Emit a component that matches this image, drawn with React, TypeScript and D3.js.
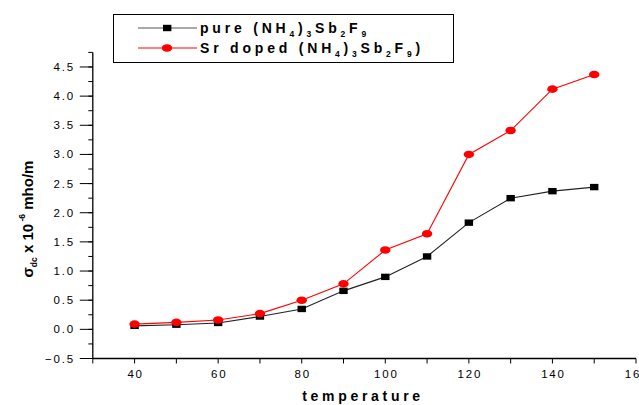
import React from 'react';
import * as d3 from 'd3';

const temps = [40, 50, 60, 70, 80, 90, 100, 110, 120, 130, 140, 150];
const pureVals = [0.06, 0.08, 0.11, 0.22, 0.35, 0.66, 0.9, 1.25, 1.83, 2.25, 2.37, 2.44];
const srVals = [0.09, 0.12, 0.16, 0.27, 0.5, 0.78, 1.36, 1.64, 3.0, 3.41, 4.12, 4.37];
const xMajor = [40, 60, 80, 100, 120, 140, 160];
const yMajor = [-0.5, 0, 0.5, 1, 1.5, 2, 2.5, 3, 3.5, 4, 4.5];

const W = 639;
const H = 405;
const font = "'Liberation Sans', Arial, sans-serif";

const App = () => {
  const x = d3.scaleLinear().domain([30, 160]).range([92.8, 636]);
  const y = d3.scaleLinear().domain([-0.5, 4.75]).range([358.5, 52.4]);

  const xMinor = d3.range(30, 161, 10);
  const yMinor = d3.range(-0.5, 4.76, 0.25);

  const line = d3
    .line<number>()
    .x((_, i) => x(temps[i]))
    .y((d) => y(d));

  const x0 = x(30);
  const y0 = y(-0.5);

  return (
    <svg
      width={W}
      height={H}
      style={{ position: 'absolute', left: 0, top: 0, background: '#fff' }}
      fontFamily={font}
    >
      <rect width={W} height={H} fill="#fff" />

      {/* axes */}
      <line x1={x0} y1={y(4.75)} x2={x0} y2={y0 + 0.5} stroke="#000" strokeWidth={1.3} />
      <line x1={x0} y1={y0} x2={x(160)} y2={y0} stroke="#000" strokeWidth={1.3} />

      {xMinor.map((t) => (
        <line key={'xt' + t} x1={x(t)} x2={x(t)} y1={y0} y2={y0 + 5} stroke="#000" />
      ))}
      {xMajor.map((t) => (
        <text
          key={'xl' + t}
          x={x(t) + 1}
          y={y0 + 19}
          fontSize={11.5}
          letterSpacing={1.8}
          textAnchor="middle"
          fill="#000"
        >
          {t}
        </text>
      ))}

      {yMinor.map((t) => (
        <line key={'ym' + t} x1={x0 - 4.5} x2={x0} y1={y(t)} y2={y(t)} stroke="#000" />
      ))}
      {yMajor.map((t) => (
        <g key={'yl' + t}>
          <line x1={x0 - 13} x2={x0} y1={y(t)} y2={y(t)} stroke="#000" />
          <text
            x={75}
            y={y(t) + 4}
            fontSize={11.5}
            letterSpacing={1.8}
            textAnchor="end"
            fill="#000"
          >
            {d3.format('.1f')(t)}
          </text>
        </g>
      ))}

      {/* axis titles */}
      <text
        x={363}
        y={401}
        fontSize={14}
        fontWeight="bold"
        letterSpacing={3.7}
        textAnchor="middle"
        fill="#000"
      >
        temperature
      </text>
      <text
        transform="translate(33,219) rotate(-90)"
        fontSize={15}
        fontWeight="bold"
        textAnchor="middle"
        fill="#000"
      >
        σ
        <tspan fontSize={8.5} dy={4}>dc</tspan>
        <tspan dy={-4}> x 10</tspan>
        <tspan fontSize={8.5} dy={-8}> -6</tspan>
        <tspan dy={8}> mho/m</tspan>
      </text>

      {/* series */}
      <path d={line(pureVals) ?? ''} fill="none" stroke="#222" strokeWidth={1.1} />
      <path d={line(srVals) ?? ''} fill="none" stroke="#ff0000" strokeWidth={1.1} />
      {pureVals.map((v, i) => (
        <rect
          key={'p' + i}
          x={x(temps[i]) - 4.2}
          y={y(v) - 3.2}
          width={8.4}
          height={6.4}
          fill="#000"
        />
      ))}
      {srVals.map((v, i) => (
        <ellipse key={'s' + i} cx={x(temps[i])} cy={y(v)} rx={5.2} ry={3.8} fill="#ff0000" />
      ))}

      {/* legend */}
      <rect x={113.5} y={14.5} width={340} height={48} fill="#fff" stroke="#000" strokeWidth={1} />
      <line x1={138} x2={197} y1={28} y2={28} stroke="#555" strokeWidth={1.2} />
      <rect x={163} y={24.8} width={8.4} height={6.4} fill="#000" />
      <line x1={138} x2={197} y1={48} y2={48} stroke="#ff0000" strokeWidth={1.2} />
      <ellipse cx={167} cy={48} rx={5.2} ry={3.8} fill="#ff0000" />

      <text x={200} y={33} fontSize={14} fontWeight="bold" letterSpacing={3.8} fill="#000">
        pure (NH
        <tspan fontSize={8.5} dy={4}>4</tspan>
        <tspan dy={-4}>)</tspan>
        <tspan fontSize={8.5} dy={4}>3</tspan>
        <tspan dy={-4}>Sb</tspan>
        <tspan fontSize={8.5} dy={4}>2</tspan>
        <tspan dy={-4}>F</tspan>
        <tspan fontSize={8.5} dy={4}>9</tspan>
      </text>
      <text x={200} y={53} fontSize={14} fontWeight="bold" letterSpacing={3.8} fill="#000">
        Sr doped (NH
        <tspan fontSize={8.5} dy={4}>4</tspan>
        <tspan dy={-4}>)</tspan>
        <tspan fontSize={8.5} dy={4}>3</tspan>
        <tspan dy={-4}>Sb</tspan>
        <tspan fontSize={8.5} dy={4}>2</tspan>
        <tspan dy={-4}>F</tspan>
        <tspan fontSize={8.5} dy={4}>9</tspan>
        <tspan dy={-4}>)</tspan>
      </text>
    </svg>
  );
};

export default App;
